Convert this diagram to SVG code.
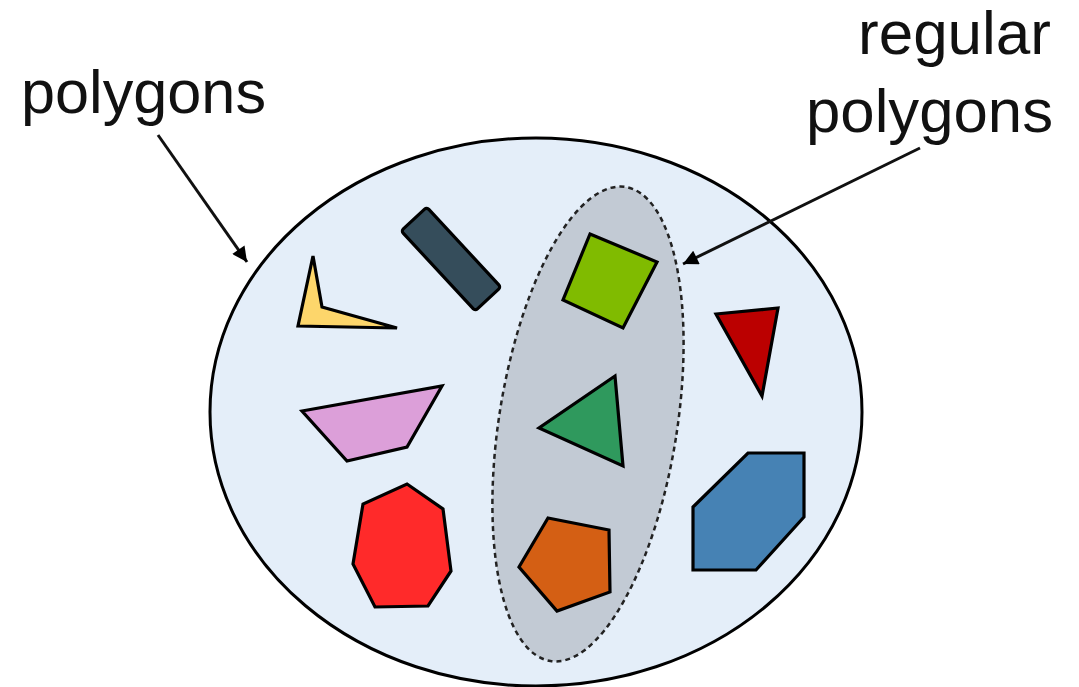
<svg xmlns="http://www.w3.org/2000/svg" width="1079" height="687" viewBox="0 0 1079 687">
  <defs>
    <style>
      .lbl { font-family: "Liberation Sans", Arial, sans-serif; font-size: 62px; fill: #111; }
      .shp { stroke: #000; stroke-width: 3.2; stroke-linejoin: miter; }
      .conn { stroke: #111; stroke-width: 3; fill: none; }
    </style>
    <marker id="ah" viewBox="0 0 10 10" refX="10" refY="5" markerWidth="9" markerHeight="5" orient="auto" markerUnits="strokeWidth">
      <path d="M0,0 L10,5 L0,10 Z" fill="#000"/>
    </marker>
  </defs>
  <rect width="1079" height="687" fill="#ffffff"/>

  <g id="polygons-set">
    <ellipse cx="536" cy="412" rx="326" ry="274" fill="#e4eef9" stroke="#000" stroke-width="3"/>
  </g>
  <g id="regular-set">
    <ellipse cx="0" cy="0" rx="89" ry="240" transform="translate(588 424) rotate(9)" fill="#c2cad4" stroke="#222" stroke-width="2.5" stroke-dasharray="5 4"/>
  </g>

  <g id="label-polygons">
    <text class="lbl" x="21" y="113" textLength="245" lengthAdjust="spacingAndGlyphs">polygons</text>
  </g>
  <g id="label-regular">
    <text class="lbl" x="858" y="54" textLength="193" lengthAdjust="spacingAndGlyphs">regular</text>
    <text class="lbl" x="806" y="132" textLength="247" lengthAdjust="spacingAndGlyphs">polygons</text>
  </g>

  <g id="connectors">
    <line class="conn" x1="158" y1="135" x2="247" y2="262" marker-end="url(#ah)"/>
    <line class="conn" x1="920" y1="148" x2="683" y2="264" marker-end="url(#ah)"/>
  </g>

  <g id="dark-rect">
    <rect class="shp" x="-54.5" y="-17.5" width="109" height="35" rx="3" transform="translate(451 259) rotate(47.2)" fill="#354d5b"/>
  </g>
  <g id="yellow-concave">
    <polygon class="shp" points="313,256 322,307 397,328 298,326" fill="#fdd66b"/>
  </g>
  <g id="pink-trapezoid">
    <polygon class="shp" points="302,411 442,386 407,447 347,461" fill="#dc9fd9"/>
  </g>
  <g id="red-heptagon">
    <polygon class="shp" points="407,484 443,509 451,571 428,606 375,607 353,564 363,504" fill="#ff2a2a"/>
  </g>
  <g id="green-square">
    <polygon class="shp" points="590,234 657,262 623,328 563,300" fill="#80bb00"/>
  </g>
  <g id="green-triangle">
    <polygon class="shp" points="615,376 539,428 623,466" fill="#2f995d"/>
  </g>
  <g id="orange-pentagon">
    <polygon class="shp" points="548,518 609,530 610,592 557,611 519,567" fill="#d45f14"/>
  </g>
  <g id="red-triangle">
    <polygon class="shp" points="716,314 778,308 762,396" fill="#bb0000"/>
  </g>
  <g id="blue-hexagon">
    <polygon class="shp" points="748,453 804,453 804,517 756,570 693,570 693,507" fill="#4682b4"/>
  </g>
</svg>
